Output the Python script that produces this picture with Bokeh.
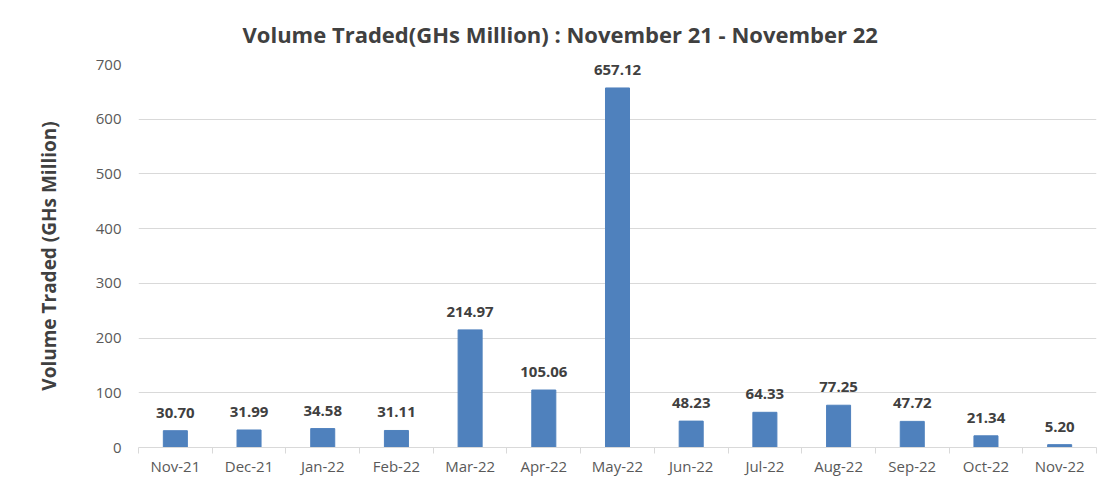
from bokeh.plotting import figure
from bokeh.models import ColumnDataSource, FixedTicker, Range1d, Title
from bokeh.embed import file_html
from bokeh.resources import INLINE
from bokeh.core.properties import value

months = ["Nov-21", "Dec-21", "Jan-22", "Feb-22", "Mar-22", "Apr-22", "May-22",
          "Jun-22", "Jul-22", "Aug-22", "Sep-22", "Oct-22", "Nov-22"]
volumes = [30.70, 31.99, 34.58, 31.11, 214.97, 105.06, 657.12,
           48.23, 64.33, 77.25, 47.72, 21.34, 5.20]
y_ticks = [0, 100, 200, 300, 400, 500, 600, 700]

n = len(months)
centers = [i + 0.5 for i in range(n)]
src = ColumnDataSource(dict(x=centers, top=volumes,
                            label=[f"{v:.2f}" for v in volumes]))

p = figure(width=1101, height=478, output_backend="svg", toolbar_location=None,
           x_range=Range1d(0, n), y_range=Range1d(0, 700),
           min_border_left=138, min_border_right=5, min_border_bottom=30,
           min_border_top=10)
p.outline_line_color = None

t = Title(text="Volume Traded(GHs Million) : November 21 - November 22",
          align="left", text_font="Open Sans", text_font_size="22px",
          text_font_style="bold", text_color="#404040", offset=104, standoff=32)
p.add_layout(t, "above")

p.vbar(x="x", top="top", width=0.326, source=src, fill_color="#4F81BD",
       line_color="#4F81BD")
p.text(x="x", y="top", text="label", source=src, text_align="center",
       text_baseline="bottom", y_offset=-13, text_font=value("Open Sans"),
       text_font_size="15px", text_font_style="bold", text_color="#404040")

p.xgrid.grid_line_color = None
p.ygrid.grid_line_color = "#D9D9D9"
p.ygrid.ticker = FixedTicker(ticks=y_ticks)

p.xaxis.ticker = FixedTicker(ticks=centers, minor_ticks=list(range(n + 1)))
p.xaxis.major_label_overrides = {c: m for c, m in zip(centers, months)}
p.xaxis.major_tick_out = 0
p.xaxis.major_tick_in = 0
p.xaxis.minor_tick_out = 6
p.xaxis.minor_tick_in = 0
p.xaxis.minor_tick_line_color = "#D9D9D9"
p.xaxis.axis_line_color = "#D9D9D9"
p.xaxis.major_label_standoff = 2
p.xaxis.major_label_text_font = "Open Sans"
p.xaxis.major_label_text_font_size = "15px"
p.xaxis.major_label_text_color = "#595959"

p.yaxis.ticker = FixedTicker(ticks=y_ticks)
p.yaxis.axis_line_color = None
p.yaxis.major_tick_line_color = None
p.yaxis.minor_tick_line_color = None
p.yaxis.major_tick_out = 0
p.yaxis.major_label_standoff = 17
p.yaxis.major_label_text_font = "Open Sans"
p.yaxis.major_label_text_font_size = "15px"
p.yaxis.major_label_text_color = "#595959"
p.yaxis.axis_label = "Volume Traded (GHs Million)"
p.yaxis.axis_label_text_font = "Open Sans"
p.yaxis.axis_label_text_font_size = "19px"
p.yaxis.axis_label_text_font_style = "bold"
p.yaxis.axis_label_text_color = "#404040"
p.yaxis.axis_label_standoff = 31

open("out.html", "w").write(file_html(p, INLINE))
